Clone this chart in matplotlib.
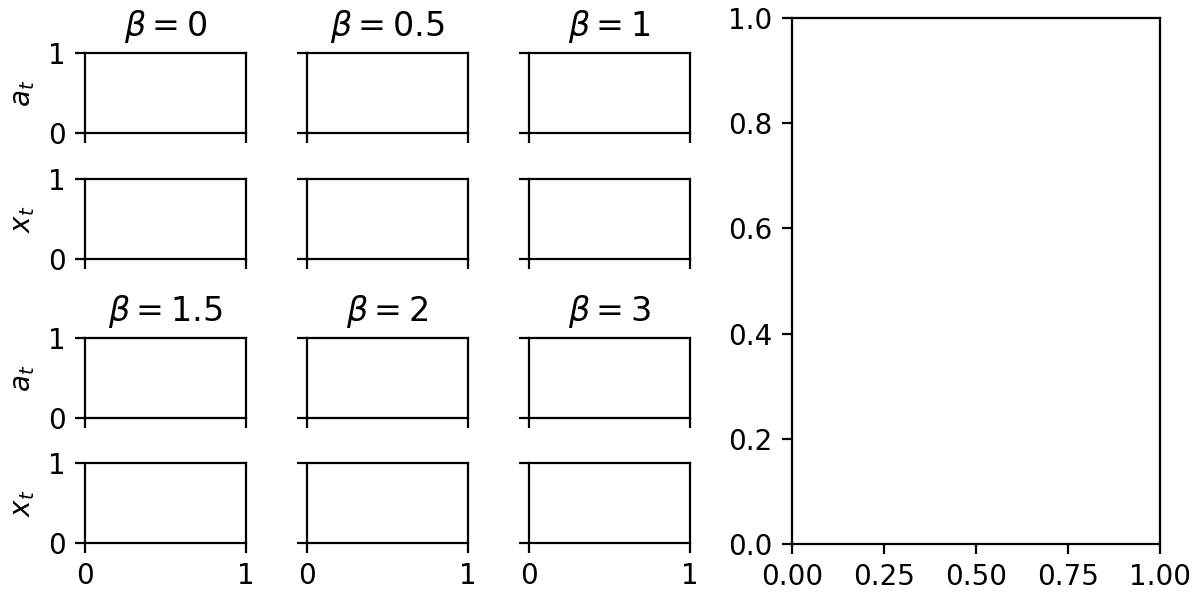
import matplotlib
matplotlib.use("Agg")
import matplotlib.pyplot as plt

betas = ["0", "0.5", "1", "1.5", "2", "3"]
row_labels = ["$a_t$", "$x_t$"]
small_ticks = [0, 1]

fig = plt.figure(figsize=(6, 3), dpi=200)

# left block: 2 groups of (a_t, x_t) rows, 3 columns each
col_left = [85, 307, 529]
row_top = [53, 179, 338, 463]
w, h = 161, 80

for g in range(2):
    for c in range(3):
        for r in range(2):
            ri = g * 2 + r
            ax = fig.add_axes([col_left[c] / 1200, 1 - (row_top[ri] + h) / 600,
                               w / 1200, h / 600])
            ax.set_xlim(0, 1)
            ax.set_ylim(0, 1)
            ax.set_xticks(small_ticks)
            ax.set_yticks(small_ticks)
            if r == 0:
                ax.set_title(r"$\beta = %s$" % betas[g * 3 + c])
            if c == 0:
                ax.set_ylabel(row_labels[r])
            else:
                ax.set_yticklabels([])
            if ri != 3:
                ax.set_xticklabels([])

big = fig.add_axes([792 / 1200, 1 - 544 / 600, 368 / 1200, 526 / 600])

fig.savefig("out.png", dpi=200)
